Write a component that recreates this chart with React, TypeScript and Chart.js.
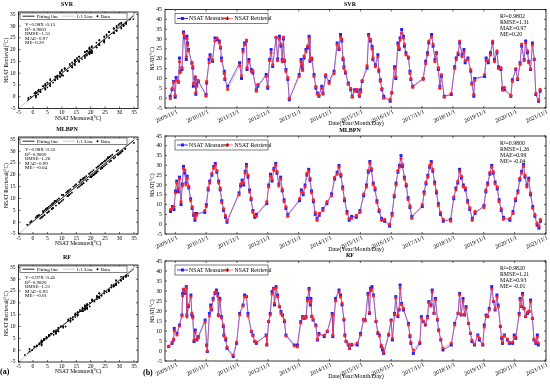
import React, { useEffect, useRef } from 'react';
import { Chart, registerables } from 'chart.js';
Chart.register(...registerables);

const FONT = '"Liberation Serif", "Times New Roman", serif';

// ---------------- SVR ----------------
const svrDates = [
  2009.67, 2009.73, 2009.78, 2009.83, 2009.86, 2009.94, 2009.97, 2009.99, 2010.05, 2010.10,
  2010.13, 2010.19, 2010.21, 2010.23, 2010.26, 2010.37, 2010.40, 2010.42, 2010.48, 2010.50,
  2010.53, 2010.58, 2010.83, 2010.85, 2010.93, 2010.96, 2011.04, 2011.12, 2011.19, 2011.26,
  2011.30, 2011.33, 2011.42, 2011.44, 2011.53, 2011.92, 2011.98, 2012.03, 2012.08, 2012.14,
  2012.16, 2012.22, 2012.30, 2012.35, 2012.46, 2012.51, 2012.78, 2012.83, 2012.89, 2012.94,
  2012.99, 2013.10, 2013.15, 2013.21, 2013.26, 2013.30, 2013.34, 2013.37, 2013.42, 2013.48,
  2013.53, 2013.85, 2013.91, 2013.94, 2013.96, 2014.01, 2014.07, 2014.12, 2014.17, 2014.20,
  2014.26, 2014.33, 2014.39, 2014.44, 2014.49, 2014.58, 2014.62, 2014.71, 2014.82, 2014.98,
  2015.08, 2015.14, 2015.19, 2015.23, 2015.27, 2015.30, 2015.35, 2015.44, 2015.52, 2015.57,
  2015.65, 2015.73, 2015.80, 2015.84, 2015.89, 2016.05, 2016.10, 2016.16, 2016.21, 2016.24,
  2016.32, 2016.40, 2016.43, 2016.48, 2016.53, 2016.59, 2016.80, 2016.85, 2016.94, 2016.98,
  2017.05, 2017.09, 2017.12, 2017.17, 2017.23, 2017.26, 2017.31, 2017.39, 2017.44, 2017.47,
  2017.53, 2017.87, 2017.95, 2018.01, 2018.05, 2018.14, 2018.19, 2018.25, 2018.30, 2018.36,
  2018.41, 2018.46, 2018.55, 2018.78, 2018.89, 2018.94, 2019.00, 2019.05, 2019.13, 2019.19,
  2019.23, 2019.32, 2019.41, 2019.45, 2019.51, 2019.54, 2019.86, 2019.91, 2019.98, 2020.05,
  2020.12, 2020.18, 2020.26, 2020.31, 2020.39, 2020.44, 2020.50, 2020.71, 2020.76, 2020.87,
  2020.93, 2021.01, 2021.06, 2021.14, 2021.19, 2021.25, 2021.29, 2021.35, 2021.41, 2021.47,
  2021.52, 2021.61, 2021.66,
];
const svrMeasured = [
  1.0, 4.3, 8.5, 0.5, 10.5, 8.0, 20.4, 13.6, 14.5, 33.6,
  30.6, 19.6, 31.4, 28.0, 24.7, 18.0, 15.3, 6.0, 10.0, 2.0,
  7.0, 8.5, 1.8, 7.7, 19.6, 22.0, 18.7, 30.6, 29.7, 29.0,
  25.5, 20.4, 13.6, 9.4, 6.0, 18.0, 10.0, 24.7, 28.0, 29.0,
  14.5, 19.6, 14.5, 12.8, 4.3, 6.0, 12.0, 5.0, 19.6, 24.7,
  16.0, 30.6, 20.0, 31.4, 26.4, 19.6, 30.0, 18.7, 14.5, 9.4,
  -0.8, 12.0, 19.6, 16.0, 14.5, 20.4, 24.7, 25.5, 31.4, 18.7,
  19.6, 12.0, 5.0, 2.6, 1.0, 6.0, 2.6, 11.0, 8.5, 13.6,
  28.0, 24.7, 32.3, 29.0, 19.6, 16.0, 12.8, 7.7, 4.3, 1.0,
  4.3, 3.5, 1.0, 4.3, 8.5, 15.3, 32.3, 29.0, 26.4, 19.6,
  17.0, 22.1, 13.6, 9.4, 4.3, 1.0, -1.6, 2.6, 16.0, 10.0,
  28.0, 24.7, 30.6, 34.8, 31.4, 26.4, 23.0, 20.4, 13.6, 9.4,
  6.0, 10.0, 18.7, 23.0, 28.0, 32.3, 26.4, 19.6, 23.0, 14.5,
  6.0, 11.0, 1.0, 1.8, 16.0, 20.4, 22.0, 28.0, 22.0, 24.7,
  18.0, 20.4, 13.6, 7.7, 1.0, 10.0, 11.0, 20.4, 18.0, 23.0,
  28.0, 19.6, 23.0, 16.0, 14.5, 5.0, 4.3, 1.0, 9.4, 14.5,
  9.4, 18.0, 26.4, 19.6, 29.0, 23.0, 18.7, 14.5, 28.0, 19.6,
  1.8, -1.6, 3.5,
];
const svrRetrieval = [
  -0.3, 5.0, 8.0, 1.5, 9.0, 8.5, 18.5, 13.0, 15.5, 32.8,
  31.5, 21.0, 30.2, 27.0, 24.0, 17.5, 16.0, 7.5, 11.0, 3.0,
  6.0, 9.0, 1.0, 8.5, 18.0, 21.0, 19.5, 29.0, 30.5, 28.0,
  26.0, 19.0, 12.5, 10.0, 4.5, 16.5, 11.5, 23.5, 27.0, 29.5,
  15.5, 18.5, 13.5, 14.0, 3.5, 7.0, 11.0, 6.0, 19.0, 23.0,
  17.0, 31.0, 19.0, 30.0, 27.5, 18.5, 31.0, 19.5, 13.5, 10.5,
  0.0, 11.0, 18.5, 17.0, 14.0, 21.5, 23.5, 26.5, 30.5, 19.5,
  20.5, 11.0, 6.0, 2.0, 1.5, 5.0, 2.0, 12.0, 7.5, 12.5,
  27.0, 25.5, 31.0, 30.0, 20.5, 15.0, 13.5, 7.0, 5.0, 0.5,
  3.5, 4.5, 1.5, 3.0, 9.0, 16.5, 31.5, 30.0, 25.0, 20.5,
  16.0, 21.0, 14.5, 8.5, 5.0, 0.0, -0.5, 3.0, 15.0, 11.0,
  27.0, 25.5, 29.5, 33.0, 30.5, 27.5, 22.0, 21.0, 12.5, 10.0,
  5.5, 9.5, 17.5, 22.0, 29.0, 31.0, 27.5, 18.5, 22.5, 15.5,
  5.0, 12.0, 0.5, 2.5, 15.0, 19.5, 23.0, 29.0, 21.0, 23.5,
  19.0, 19.5, 14.5, 7.0, 2.0, 9.0, 12.0, 19.0, 19.0, 22.0,
  29.0, 18.5, 24.0, 15.0, 15.5, 4.0, 5.5, 1.5, 8.5, 15.0,
  10.0, 17.0, 27.5, 19.0, 28.0, 24.0, 18.0, 15.0, 27.0, 20.0,
  2.5, -1.0, 4.5,
];
const svrFit = [0.98, 0.15];
const svrEquation = 'Y=0.98X+0.15';
const svrStats = ['R²=0.9802', 'RMSE=1.31', 'MAE=0.97', 'ME=0.20'];

// ---------------- MLBPN ----------------
const mlbpnDates = [
  2009.68, 2009.74, 2009.79, 2009.84, 2009.88, 2009.93, 2009.97, 2010.02, 2010.06, 2010.10,
  2010.14, 2010.18, 2010.22, 2010.27, 2010.33, 2010.38, 2010.43, 2010.47, 2010.52, 2010.79,
  2010.84, 2010.90, 2010.95, 2011.02, 2011.08, 2011.13, 2011.18, 2011.24, 2011.29, 2011.34,
  2011.40, 2011.46, 2011.51, 2011.90, 2011.95, 2012.00, 2012.05, 2012.10, 2012.14, 2012.19,
  2012.24, 2012.29, 2012.35, 2012.41, 2012.46, 2012.80, 2012.86, 2012.92, 2012.97, 2013.03,
  2013.09, 2013.13, 2013.19, 2013.25, 2013.30, 2013.36, 2013.42, 2013.48, 2013.86, 2013.92,
  2013.98, 2014.04, 2014.10, 2014.16, 2014.20, 2014.25, 2014.31, 2014.37, 2014.43, 2014.50,
  2014.62, 2014.75, 2014.90, 2015.00, 2015.08, 2015.14, 2015.20, 2015.26, 2015.32, 2015.40,
  2015.47, 2015.55, 2015.70, 2015.82, 2015.94, 2016.03, 2016.09, 2016.14, 2016.19, 2016.25,
  2016.31, 2016.37, 2016.44, 2016.52, 2016.62, 2016.78, 2016.86, 2016.93, 2016.99, 2017.05,
  2017.10, 2017.15, 2017.20, 2017.26, 2017.32, 2017.38, 2017.44, 2017.50, 2017.84, 2017.90,
  2017.96, 2018.02, 2018.08, 2018.13, 2018.18, 2018.24, 2018.30, 2018.36, 2018.43, 2018.52,
  2018.76, 2018.86, 2018.93, 2018.99, 2019.05, 2019.11, 2019.17, 2019.24, 2019.31, 2019.38,
  2019.46, 2019.55, 2019.84, 2019.90, 2019.96, 2020.03, 2020.09, 2020.14, 2020.20, 2020.27,
  2020.33, 2020.40, 2020.47, 2020.68, 2020.78, 2020.86, 2020.94, 2021.00, 2021.06, 2021.12,
  2021.17, 2021.23, 2021.29, 2021.35, 2021.42, 2021.49, 2021.56, 2021.62, 2021.67,
];
const mlbpnMeasured = [
  6.5, 9.0, 7.5, 17.0, 22.0, 16.5, 24.0, 10.0, 20.5, 29.5,
  26.0, 21.0, 24.5, 18.5, 13.0, 8.0, 4.5, 2.0, 5.5, 6.0,
  10.0, 17.5, 22.0, 25.0, 29.5, 31.0, 26.5, 22.0, 17.5, 12.0,
  7.0, 3.5, 1.0, 16.0, 19.5, 22.5, 20.0, 27.0, 30.5, 24.0,
  17.5, 12.5, 7.0, 3.5, 5.0, 10.5, 20.0, 25.5, 22.0, 28.5,
  31.0, 26.0, 20.5, 24.0, 17.0, 12.5, 8.0, 5.0, 12.0, 17.5,
  15.0, 20.0, 25.0, 28.0, 22.5, 17.0, 11.5, 5.0, 3.0, 4.5,
  8.0, 10.5, 15.5, 23.0, 26.5, 30.0, 24.5, 19.0, 12.0, 6.5,
  2.0, 4.0, 3.5, 7.0, 14.5, 20.0, 26.5, 32.0, 27.5, 21.0,
  17.5, 12.0, 6.5, 3.0, 1.5, -1.0, 5.5, 14.0, 21.0, 26.5,
  30.0, 35.0, 29.5, 24.0, 19.5, 13.5, 8.5, 4.0, 9.0, 16.5,
  20.5, 25.0, 29.0, 32.0, 27.0, 21.5, 16.0, 10.5, 5.0, 1.5,
  2.5, 13.0, 18.5, 21.0, 28.0, 23.5, 20.0, 17.5, 12.0, 7.5,
  3.0, 5.5, 9.5, 16.5, 21.0, 25.5, 30.0, 26.0, 21.5, 18.0,
  12.5, 7.0, 3.5, 2.0, 6.5, 12.0, 17.0, 22.5, 27.0, 30.5,
  24.0, 20.0, 23.5, 15.0, 9.0, 4.0, -0.5, -2.0, 1.5,
];
const mlbpnRetrieval = [
  7.5, 8.0, 9.0, 16.0, 21.0, 18.0, 23.0, 11.5, 19.5, 28.5,
  27.5, 20.0, 23.5, 19.5, 12.0, 9.0, 5.5, 3.0, 4.5, 7.0,
  9.0, 18.5, 21.0, 26.0, 28.5, 30.0, 27.5, 21.0, 18.5, 11.0,
  8.0, 4.5, 2.0, 15.0, 20.5, 21.5, 21.0, 26.0, 29.5, 25.0,
  16.5, 13.5, 6.0, 4.5, 4.0, 11.5, 19.0, 24.5, 23.0, 27.5,
  30.0, 27.0, 19.5, 23.0, 18.0, 11.5, 9.0, 4.0, 13.0, 16.5,
  16.0, 19.0, 26.0, 27.0, 23.5, 16.0, 12.5, 6.0, 2.0, 5.5,
  7.0, 11.5, 14.5, 24.0, 25.5, 29.0, 25.5, 18.0, 13.0, 5.5,
  3.0, 3.0, 4.5, 6.0, 15.5, 19.0, 27.5, 31.0, 28.5, 20.0,
  18.5, 11.0, 7.5, 2.0, 2.5, 0.0, 4.5, 15.0, 20.0, 27.5,
  29.0, 33.5, 30.5, 23.0, 20.5, 12.5, 9.5, 3.0, 10.0, 15.5,
  21.5, 24.0, 30.0, 31.0, 28.0, 20.5, 17.0, 9.5, 6.0, 2.5,
  1.5, 14.0, 17.5, 22.0, 27.0, 24.5, 19.0, 18.5, 11.0, 8.5,
  2.0, 6.5, 8.5, 17.5, 20.0, 26.5, 29.0, 27.0, 20.5, 19.0,
  11.5, 8.0, 2.5, 3.0, 5.5, 13.0, 16.0, 23.5, 26.0, 29.5,
  25.0, 19.0, 22.5, 16.0, 8.0, 5.0, 0.5, -1.0, 2.5,
];
const mlbpnFit = [0.98, 0.33];
const mlbpnEquation = 'Y=0.98X+0.33';
const mlbpnStats = ['R²=0.9800', 'RMSE=1.26', 'MAE=0.99', 'ME= -0.04'];

// ---------------- RF ----------------
const rfDates = [
  2009.62, 2009.73, 2009.78, 2009.80, 2009.89, 2009.97, 2010.05, 2010.07, 2010.10, 2010.15,
  2010.19, 2010.21, 2010.26, 2010.34, 2010.37, 2010.40, 2010.44, 2010.48, 2010.53, 2010.58,
  2010.80, 2010.85, 2010.87, 2010.94, 2010.98, 2011.01, 2011.06, 2011.12, 2011.17, 2011.21,
  2011.23, 2011.28, 2011.33, 2011.39, 2011.41, 2011.47, 2011.51, 2011.71, 2011.82, 2011.92,
  2012.03, 2012.08, 2012.14, 2012.19, 2012.30, 2012.35, 2012.41, 2012.46, 2012.78, 2012.80,
  2012.86, 2012.91, 2012.97, 2013.02, 2013.05, 2013.10, 2013.15, 2013.21, 2013.26, 2013.31,
  2013.37, 2013.42, 2013.69, 2013.79, 2013.90, 2013.96, 2014.01, 2014.07, 2014.12, 2014.17,
  2014.21, 2014.23, 2014.26, 2014.30, 2014.39, 2014.44, 2014.49, 2014.66, 2014.76, 2014.92,
  2014.94, 2015.03, 2015.14, 2015.19, 2015.24, 2015.30, 2015.33, 2015.37, 2015.44, 2015.48,
  2015.55, 2015.73, 2015.84, 2015.94, 2015.99, 2016.08, 2016.13, 2016.16, 2016.21, 2016.26,
  2016.34, 2016.40, 2016.45, 2016.51, 2016.55, 2016.59, 2016.75, 2016.83, 2016.87, 2016.94,
  2016.98, 2017.05, 2017.09, 2017.12, 2017.17, 2017.23, 2017.39, 2017.44, 2017.47, 2017.55,
  2017.76, 2017.81, 2017.87, 2017.94, 2018.01, 2018.05, 2018.12, 2018.16, 2018.22, 2018.27,
  2018.33, 2018.37, 2018.44, 2018.51, 2018.78, 2018.89, 2019.00, 2019.05, 2019.10, 2019.16,
  2019.21, 2019.26, 2019.34, 2019.40, 2019.45, 2019.53, 2019.64, 2019.69, 2019.80, 2019.85,
  2019.91, 2019.96, 2020.01, 2020.09, 2020.15, 2020.20, 2020.26, 2020.30, 2020.37, 2020.41,
  2020.44, 2020.50, 2020.60, 2020.66, 2020.77, 2020.82, 2020.87, 2020.98, 2021.01, 2021.06,
  2021.09, 2021.14, 2021.19, 2021.25, 2021.30, 2021.35, 2021.41, 2021.46, 2021.52, 2021.57,
  2021.60,
];
const rfMeasured = [
  2.2, 3.8, 5.5, 11.3, 8.8, 13.0, 18.0, 28.8, 30.5, 28.8,
  32.2, 18.0, 22.2, 28.0, 18.0, 17.2, 4.7, 10.5, 5.5, 7.2,
  15.5, 3.0, -0.3, 18.8, 23.0, 20.5, 26.3, 28.8, 30.5, 28.8,
  18.0, 26.3, 17.2, 12.2, 8.0, 5.5, 1.3, -2.8, 3.8, 18.8,
  23.0, 28.0, 27.2, 18.8, 9.7, 8.0, 4.7, 3.8, 8.0, 3.0,
  14.7, 18.8, 29.7, 31.3, 23.0, 32.2, 28.0, 22.2, 19.7, 18.0,
  14.7, 8.0, 3.0, 3.0, 14.7, 17.2, 16.3, 17.2, 26.3, 31.3,
  23.0, 26.3, 17.2, 15.5, 13.0, 5.5, 8.8, 7.2, 9.7, 18.8,
  7.2, 26.3, 30.5, 28.0, 23.0, 15.5, 8.0, 4.7, 3.0, 1.3,
  3.0, 3.0, 8.8, 15.5, 15.5, 28.8, 18.8, 31.3, 32.2, 28.0,
  14.7, 8.8, 8.0, 2.2, 0.5, -1.2, 8.0, 15.5, 5.5, 18.8,
  27.2, 17.2, 20.5, 33.0, 23.8, 20.5, 13.8, 7.2, 3.8, -1.2,
  3.8, 17.2, 14.7, 13.0, 17.2, 24.7, 23.0, 30.5, 18.8, 26.3,
  15.5, 10.5, 5.5, 0.5, 3.0, 13.8, 18.8, 28.8, 18.0, 26.3,
  18.0, 22.2, 13.8, 8.8, 4.7, 3.0, 8.0, 5.5, 3.0, 13.0,
  18.0, 17.2, 21.3, 32.2, 24.7, 20.5, 28.0, 23.0, 12.2, 6.3,
  3.8, 8.0, 5.5, 3.8, 3.8, 8.0, 6.3, 18.8, 26.3, 22.2,
  28.8, 21.3, 17.2, 18.8, 19.7, 25.5, 16.3, 5.5, 3.8, 8.0,
  3.0,
];
const rfRetrieval = [
  2.5, 4.5, 6.0, 10.0, 8.0, 12.5, 17.5, 27.5, 31.0, 29.5,
  31.5, 17.0, 23.0, 27.0, 19.0, 16.5, 5.5, 9.5, 6.0, 6.5,
  14.5, 2.5, 0.0, 17.5, 22.0, 21.0, 25.5, 29.5, 29.5, 27.5,
  17.5, 25.5, 16.5, 13.0, 7.5, 6.5, 2.0, -2.0, 4.5, 18.0,
  22.5, 27.0, 27.5, 17.5, 10.0, 7.5, 5.0, 4.5, 7.5, 3.5,
  15.0, 18.0, 28.5, 31.0, 24.0, 31.5, 27.0, 22.5, 18.5, 17.5,
  15.5, 7.5, 2.5, 2.0, 14.0, 16.5, 17.0, 16.5, 25.0, 30.5,
  24.0, 25.0, 17.5, 16.0, 12.5, 6.0, 8.0, 8.0, 10.0, 18.0,
  8.0, 25.0, 29.5, 27.0, 24.0, 16.0, 7.5, 5.0, 3.5, 1.5,
  3.5, 4.0, 8.0, 16.0, 15.0, 28.0, 19.5, 30.0, 31.0, 27.5,
  15.0, 9.5, 7.5, 3.0, 1.5, -0.5, 8.5, 15.0, 6.5, 18.0,
  26.5, 18.0, 21.0, 31.5, 23.0, 21.5, 13.0, 8.0, 4.5, 0.5,
  4.5, 16.5, 15.0, 13.5, 16.5, 24.0, 22.5, 29.5, 19.0, 25.5,
  16.0, 10.0, 6.0, 1.5, 4.0, 13.0, 19.0, 28.0, 18.5, 25.0,
  18.5, 21.5, 14.0, 9.0, 5.5, 3.5, 7.5, 6.5, 3.5, 12.0,
  17.5, 17.5, 20.5, 31.0, 25.0, 21.0, 27.0, 22.0, 12.5, 7.0,
  4.5, 7.5, 6.0, 4.5, 4.5, 7.0, 7.0, 18.0, 25.5, 22.5,
  28.0, 21.0, 17.5, 19.5, 20.0, 24.5, 16.5, 6.0, 4.5, 7.0,
  4.0,
];
const rfFit = [0.97, 0.45];
const rfEquation = 'Y=0.97X+0.45';
const rfStats = ['R²=0.9820', 'RMSE=1.21', 'MAE=0.93', 'ME= -0.01'];

// ---------------- axes ----------------
const dateTickLabels = [
  '2009/11/1', '2010/11/1', '2011/11/1', '2012/11/1', '2013/11/1', '2014/11/1', '2015/11/1',
  '2016/11/1', '2017/11/1', '2018/11/1', '2019/11/1', '2020/11/1', '2021/11/1',
];
const nsatTicks = [-5, 0, 5, 10, 15, 20, 25, 30, 35, 40, 45];
const scatterTicks = [-5, 0, 5, 10, 15, 20, 25, 30, 35];
const fitRange = [-2, 35];
const oneToOne = [-5, 37];

const toYear = (s: string) => {
  const [y, m, d] = s.split('/').map(Number);
  return y + ((m - 1) * 30.44 + d - 1) / 365.25;
};

interface Model {
  name: string; dates: number[]; meas: number[]; retr: number[];
  fit: number[]; eq: string; stats: string[];
}
const models: Model[] = [
  { name: 'SVR', dates: svrDates, meas: svrMeasured, retr: svrRetrieval, fit: svrFit, eq: svrEquation, stats: svrStats },
  { name: 'MLBPN', dates: mlbpnDates, meas: mlbpnMeasured, retr: mlbpnRetrieval, fit: mlbpnFit, eq: mlbpnEquation, stats: mlbpnStats },
  { name: 'RF', dates: rfDates, meas: rfMeasured, retr: rfRetrieval, fit: rfFit, eq: rfEquation, stats: rfStats },
];

// layout (page pixels)
const rows = [
  { lt: 12, lb: 108.5, rt: 9.5, rb: 108 },
  { lt: 137, lb: 234, rt: 136, rb: 234 },
  { lt: 265, lb: 362, rt: 261, rb: 361 },
];
const SC_L = 18.5, SC_R = 138;
const TS_L = 165, TS_R = 548;

function text(ctx: CanvasRenderingContext2D, s: string, x: number, y: number,
  o: { size?: number; align?: CanvasTextAlign; bold?: boolean; rot?: number; color?: string } = {}) {
  ctx.save();
  ctx.font = `${o.bold ? 'bold ' : ''}${o.size ?? 6}px ${FONT}`;
  ctx.fillStyle = o.color ?? '#000';
  ctx.textAlign = o.align ?? 'left';
  ctx.textBaseline = 'middle';
  ctx.translate(x, y);
  if (o.rot) ctx.rotate(o.rot);
  ctx.fillText(s, 0, 0);
  ctx.restore();
}

function frame(chart: any, xt: number[], yt: number[]) {
  const { ctx, chartArea: a, scales } = chart;
  ctx.save();
  ctx.strokeStyle = '#000';
  ctx.lineWidth = 0.8;
  ctx.strokeRect(a.left, a.top, a.right - a.left, a.bottom - a.top);
  ctx.lineWidth = 0.6;
  ctx.beginPath();
  xt.forEach((v) => {
    const p = scales.x.getPixelForValue(v);
    ctx.moveTo(p, a.bottom); ctx.lineTo(p, a.bottom - 2);
    ctx.moveTo(p, a.top); ctx.lineTo(p, a.top + 2);
  });
  yt.forEach((v) => {
    const p = scales.y.getPixelForValue(v);
    ctx.moveTo(a.left, p); ctx.lineTo(a.left + 2, p);
    ctx.moveTo(a.right, p); ctx.lineTo(a.right - 2, p);
  });
  ctx.stroke();
  ctx.restore();
}

const hiddenAxis = (min: number, max: number, vals: number[], fit: (s: any) => void) => ({
  type: 'linear', min, max,
  afterBuildTicks: (s: any) => { s.ticks = vals.map((v) => ({ value: v })); },
  afterFit: fit,
  grid: { display: false }, border: { display: false },
  ticks: { display: false },
});

function buildScatter(canvas: HTMLCanvasElement, m: Model, idx: number) {
  const r = rows[idx];
  const yW = 14, xH = 12;
  const pts = m.meas.map((v, i) => ({ x: v, y: m.retr[i] }));
  const fitPts = fitRange.map((x) => ({ x, y: m.fit[0] * x + m.fit[1] }));
  const onePts = oneToOne.map((v) => ({ x: v, y: v }));
  const overlay = {
    id: 'overlay' + idx,
    afterDraw(chart: any) {
      const ctx = chart.ctx as CanvasRenderingContext2D;
      const a = chart.chartArea;
      const sx = chart.scales.x, sy = chart.scales.y;
      frame(chart, scatterTicks, scatterTicks);
      scatterTicks.forEach((v) => {
        text(ctx, String(v), sx.getPixelForValue(v), a.bottom + 4.2, { size: 5.5, align: 'center' });
        text(ctx, String(v), a.left - 3, sy.getPixelForValue(v), { size: 5.5, align: 'right' });
      });
      text(ctx, m.name, 67, a.top - 8, { size: 6, bold: true, align: 'center' });
      text(ctx, 'NSAT Measured(°C)', (a.left + a.right) / 2, a.bottom + 9.8, { size: 5.5, align: 'center' });
      text(ctx, 'NSAT Retrieval(°C)', 6.5, (a.top + a.bottom) / 2, { size: 5.5, align: 'center', rot: -Math.PI / 2 });
      // legend
      ctx.save();
      const ly = a.top + 4.2;
      ctx.fillStyle = '#fff';
      ctx.fillRect(a.left + 1.5, a.top + 1, 107, 6.5);
      ctx.strokeStyle = '#000'; ctx.lineWidth = 0.5;
      ctx.strokeRect(a.left + 1.5, a.top + 1, 107, 6.5);
      ctx.lineWidth = 0.9; ctx.strokeStyle = '#111';
      ctx.beginPath(); ctx.moveTo(a.left + 4, ly); ctx.lineTo(a.left + 16, ly); ctx.stroke();
      ctx.lineWidth = 0.5; ctx.strokeStyle = '#999';
      ctx.beginPath(); ctx.moveTo(a.left + 44, ly); ctx.lineTo(a.left + 56, ly); ctx.stroke();
      ctx.fillStyle = '#000';
      ctx.beginPath(); ctx.arc(a.left + 79, ly, 1, 0, Math.PI * 2); ctx.fill();
      ctx.restore();
      text(ctx, 'Fitting line', a.left + 18, ly, { size: 5 });
      text(ctx, '1:1 Line', a.left + 58, ly, { size: 5 });
      text(ctx, 'Data', a.left + 82, ly, { size: 5 });
      [m.eq, ...m.stats].forEach((s, i) => text(ctx, s, a.left + 6.5, a.top + 13 + i * 4.4, { size: 5 }));
      if (idx === 2) {
        text(ctx, '(a)', 0, 372, { size: 8, bold: true });
        text(ctx, '(b)', 143, 373, { size: 8, bold: true });
      }
    },
  };
  return new Chart(canvas, {
    type: 'scatter',
    data: {
      datasets: [
        { data: pts, pointRadius: 0.9, pointBackgroundColor: '#000', pointBorderWidth: 0, showLine: false, order: 0 } as any,
        { data: fitPts, showLine: true, pointRadius: 0, borderColor: '#111', borderWidth: 0.9, order: 1 },
        { data: onePts, showLine: true, pointRadius: 0, borderColor: '#999', borderWidth: 0.5, order: 2 },
      ],
    },
    options: {
      responsive: false, animation: false, events: [],
      layout: { padding: { left: SC_L - yW, right: 550 - SC_R, top: r.lt, bottom: 384 - r.lb - xH } },
      plugins: { legend: { display: false }, tooltip: { enabled: false } },
      scales: {
        x: hiddenAxis(-5, 36.4, scatterTicks, (s: any) => { s.height = xH; }),
        y: hiddenAxis(-5, 36, scatterTicks, (s: any) => { s.width = yW; }),
      },
    } as any,
    plugins: [overlay],
  });
}

function buildSeries(canvas: HTMLCanvasElement, m: Model, idx: number) {
  const r = rows[idx];
  const yW = 20, xH = 14;
  const tickVals = dateTickLabels.map(toYear);
  const meas = m.dates.map((d, i) => ({ x: d, y: m.meas[i] }));
  const retr = m.dates.map((d, i) => ({ x: d, y: m.retr[i] }));
  const BLUE = '#1f1fff', RED = '#ff2222';
  const overlay = {
    id: 'overlayR' + idx,
    afterDraw(chart: any) {
      const ctx = chart.ctx as CanvasRenderingContext2D;
      const a = chart.chartArea;
      const sx = chart.scales.x, sy = chart.scales.y;
      frame(chart, tickVals, nsatTicks);
      nsatTicks.forEach((v) => text(ctx, String(v), a.left - 3, sy.getPixelForValue(v), { size: 5.8, align: 'right' }));
      tickVals.forEach((v, i) => text(ctx, dateTickLabels[i], sx.getPixelForValue(v) + 2, a.bottom + 3.5,
        { size: 5.8, align: 'right', rot: -25 * Math.PI / 180 }));
      text(ctx, m.name, 350, a.top - 5.5, { size: 6, bold: true, align: 'center' });
      text(ctx, 'NSAT(°C)', 153, (a.top + a.bottom) / 2, { size: 5.5, align: 'center', rot: -Math.PI / 2 });
      text(ctx, 'Date(Year/Month/Day)', 356, a.bottom + 15, { size: 6, align: 'center' });
      // legend
      const ly = a.top + 9;
      ctx.save();
      ctx.fillStyle = '#fff';
      ctx.fillRect(175, a.top + 4, 93, 10);
      ctx.strokeStyle = '#000'; ctx.lineWidth = 0.5;
      ctx.strokeRect(175, a.top + 4, 93, 10);
      ctx.lineWidth = 0.9;
      ctx.strokeStyle = BLUE;
      ctx.beginPath(); ctx.moveTo(177, ly); ctx.lineTo(188, ly); ctx.stroke();
      ctx.fillStyle = BLUE; ctx.fillRect(181, ly - 1.5, 3, 3);
      ctx.strokeStyle = 'rgba(255,60,60,0.7)';
      ctx.beginPath(); ctx.moveTo(222, ly); ctx.lineTo(233, ly); ctx.stroke();
      ctx.fillStyle = RED; ctx.beginPath(); ctx.arc(227.5, ly, 1.6, 0, Math.PI * 2); ctx.fill();
      ctx.restore();
      text(ctx, 'NSAT Measured', 189, ly, { size: 5.8 });
      text(ctx, 'NSAT Retrieval', 234.5, ly, { size: 5.8 });
      m.stats.forEach((s, i) => text(ctx, s, 500, a.top + 7 + i * 6.1, { size: 5.8 }));
    },
  };
  return new Chart(canvas, {
    type: 'scatter',
    data: {
      datasets: [
        {
          data: retr, showLine: true, borderColor: 'rgba(255,70,70,0.55)', borderWidth: 0.8,
          pointStyle: 'circle', pointRadius: 1.6, pointBackgroundColor: RED, pointBorderWidth: 0, order: 0,
        } as any,
        {
          data: meas, showLine: true, borderColor: 'rgba(30,30,255,0.85)', borderWidth: 0.8,
          pointStyle: 'rect', pointRadius: 2.1, pointBackgroundColor: BLUE, pointBorderWidth: 0, order: 1,
        },
      ],
    },
    options: {
      responsive: false, animation: false, events: [],
      layout: { padding: { left: TS_L - yW, right: 550 - TS_R, top: r.rt, bottom: 384 - r.rb - xH } },
      plugins: { legend: { display: false }, tooltip: { enabled: false } },
      scales: {
        x: hiddenAxis(2009.5, 2021.85, tickVals, (s: any) => { s.height = xH; }),
        y: hiddenAxis(-5, 45, nsatTicks, (s: any) => { s.width = yW; }),
      },
    } as any,
    plugins: [overlay],
  });
}

function Layer({ build }: { build: (c: HTMLCanvasElement) => Chart }) {
  const ref = useRef<HTMLCanvasElement>(null);
  useEffect(() => {
    const ch = build(ref.current!);
    return () => ch.destroy();
  }, []);
  return (
    <canvas ref={ref} width={550} height={384}
      style={{ position: 'absolute', left: 0, top: 0, width: 550, height: 384 }} />
  );
}

export default function App() {
  return (
    <div style={{ position: 'absolute', left: 0, top: 0, width: 550, height: 384, background: '#fff', overflow: 'hidden' }}>
      {models.map((m, i) => (
        <React.Fragment key={m.name}>
          <Layer build={(c) => buildScatter(c, m, i)} />
          <Layer build={(c) => buildSeries(c, m, i)} />
        </React.Fragment>
      ))}
    </div>
  );
}
